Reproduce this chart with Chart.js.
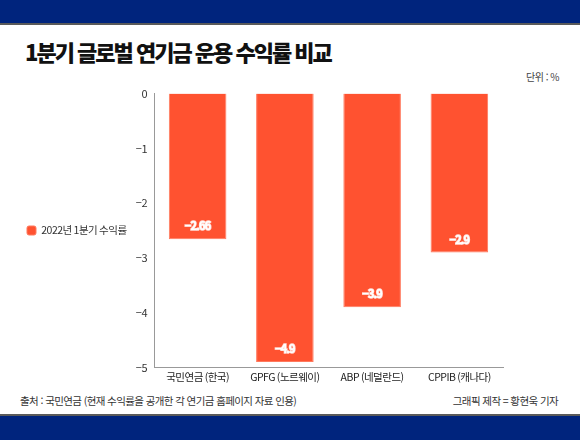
<!DOCTYPE html>
<html lang="ko">
<head>
<meta charset="UTF-8">
<title>1분기 글로벌 연기금 운용 수익률 비교</title>
<script src="https://cdn.jsdelivr.net/npm/chart.js"></script>
<style>
  html, body { margin: 0; padding: 0; background: #fff; }
  body { width: 580px; height: 440px; position: relative; overflow: hidden;
         font-family: "Noto Sans CJK KR", "Noto Sans", sans-serif; }
  .band-top { position: absolute; left: 0; top: 0; width: 580px; height: 23px; background: #00247d;
              border-bottom: 2px solid #5a5a5a; }
  .band-bottom { position: absolute; left: 0; top: 414px; width: 580px; height: 26px; background: #00247d;
                 border-top: 2px solid #5a5a5a; }
  .title { position: absolute; left: 25px; top: 36px; font-size: 22px; font-weight: 900;
           letter-spacing: -2px; color: #111; line-height: 30px; white-space: nowrap; }
  .unit { position: absolute; right: 21px; top: 69px; font-size: 10px; color: #444; letter-spacing: -0.5px; }
  .source { position: absolute; left: 20px; top: 393px; font-size: 10.5px; color: #333; letter-spacing: -0.6px; }
  .credit { position: absolute; right: 22px; top: 393px; font-size: 10.5px; color: #333; letter-spacing: -0.6px; }
  .chart-box { position: absolute; left: 0; top: 80px; width: 580px; height: 308px; }
</style>
</head>
<body>
<div class="band-top"></div>
<div class="title">1분기 글로벌 연기금 운용 수익률 비교</div>
<div class="unit">단위 : %</div>
<div class="chart-box"><canvas id="myChart"></canvas></div>
<div class="source">출처 : 국민연금 (현재 수익률을 공개한 각 연기금 홈페이지 자료 인용)</div>
<div class="credit">그래픽 제작 = 황현욱 기자</div>
<div class="band-bottom"></div>

<script>
  // 데이터
  const funds = ['국민연금 (한국)', 'GPFG (노르웨이)', 'ABP (네덜란드)', 'CPPIB (캐나다)'];
  const returns2022Q1 = [-2.66, -4.9, -3.9, -2.9];
  const yTicks = [0, -1, -2, -3, -4, -5];

  const minus = v => String(v).replace('-', '\u2212');

  // 막대 끝에 값 표시
  const barLabels = {
    id: 'barLabels',
    afterDatasetsDraw(chart) {
      const ctx = chart.ctx;
      const meta = chart.getDatasetMeta(0);
      ctx.save();
      ctx.font = '600 11px "Noto Sans CJK KR", sans-serif';
      ctx.textAlign = 'center';
      ctx.textBaseline = 'middle';
      ctx.letterSpacing = '-0.8px';
      meta.data.forEach((bar, i) => {
        const txt = minus(returns2022Q1[i]);
        const y = bar.y - 13;
        ctx.lineWidth = 1.4;
        ctx.strokeStyle = 'rgba(255,255,255,0.8)';
        ctx.strokeText(txt, bar.x, y);
        ctx.fillStyle = '#fff';
        ctx.fillText(txt, bar.x, y);
      });
      ctx.restore();
    }
  };

  // 범례를 그래프 영역 가운데로
  const legendMiddle = {
    id: 'legendMiddle',
    afterLayout(chart) {
      const l = chart.legend;
      const mid = (chart.chartArea.top + chart.chartArea.bottom) / 2;
      const d = mid - (l.top + l.bottom) / 2;
      l.top += d;
      l.bottom += d;
    }
  };

  const tightText = {
    id: 'tightText',
    beforeLayout(chart) { chart.ctx.letterSpacing = '-0.5px'; },
    beforeDraw(chart) { chart.ctx.letterSpacing = '-0.5px'; }
  };

  const ctx = document.getElementById('myChart');

  new Chart(ctx, {
    type: 'bar',
    data: {
      labels: funds,
      datasets: [{
        label: '2022년 1분기 수익률',
        data: returns2022Q1,
        backgroundColor: '#ff5230',
        borderColor: '#ff7a5e',
        borderWidth: 1,
        categoryPercentage: 0.66,
        barPercentage: 1
      }]
    },
    plugins: [tightText, legendMiddle, barLabels],
    options: {
      responsive: true,
      maintainAspectRatio: false,
      animation: false,
      layout: { padding: { top: 12, right: 77, bottom: 2, left: 17 } },
      plugins: {
        legend: {
          position: 'left',
          maxWidth: 113,
          labels: {
            boxWidth: 9,
            boxHeight: 9,
            useBorderRadius: true,
            borderRadius: 2,
            color: '#333',
            padding: 10,
            font: { family: '"Noto Sans CJK KR", sans-serif', size: 10.5 }
          }
        },
        tooltip: { enabled: false }
      },
      scales: {
        y: {
          min: -5,
          max: 0,
          afterBuildTicks(axis) { axis.ticks = yTicks.map(v => ({ value: v })); },
          afterFit(axis) { axis.width = 24; },
          ticks: {
            color: '#333',
            padding: 7,
            font: { family: '"Noto Sans CJK KR", sans-serif', size: 11 },
            callback: v => minus(v)
          },
          grid: { display: false, drawTicks: false },
          border: { display: true, color: '#999', width: 1 }
        },
        x: {
          ticks: {
            color: '#222',
            padding: 3,
            maxRotation: 0,
            font: { family: '"Noto Sans CJK KR", sans-serif', size: 10.5 }
          },
          grid: { display: false, drawTicks: false },
          border: { display: true, color: '#999', width: 1 }
        }
      }
    }
  });
</script>
</body>
</html>
